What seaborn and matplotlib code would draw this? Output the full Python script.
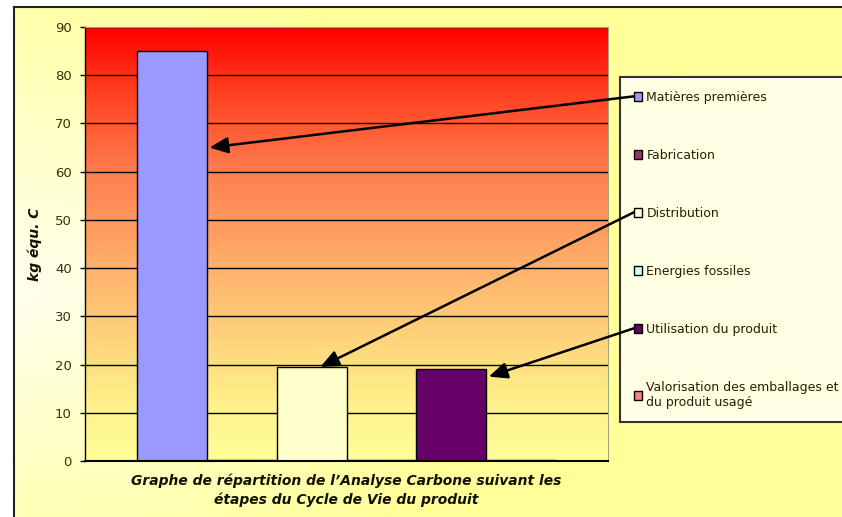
import numpy as np
import pandas as pd
import seaborn as sns
import matplotlib.pyplot as plt
from matplotlib.colors import LinearSegmentedColormap, to_rgb

# Carbon footprint per life-cycle stage (kg C equivalent)
etapes = [
    "Matières premières",
    "Fabrication",
    "Distribution",
    "Energies fossiles",
    "Utilisation du produit",
    "Valorisation des emballages et\ndu produit usagé",
]
valeurs = [85, 0.3, 19.5, 0.2, 19, 0.3]
couleurs = ["#9999FF", "#993366", "#FFFFCC", "#CCFFFF", "#660066", "#FF8080"]
graduations = list(range(0, 91, 10))
titre_axe_y = "kg équ. C"
titre_axe_x = ("Graphe de répartition de l’Analyse Carbone suivant les\n"
               "étapes du Cycle de Vie du produit")
# stages pointed at by an arrow from the legend, with the arrow tip (x offset, value)
fleches = {0: (-0.262, 65), 2: (-0.05, valeurs[2]), 4: (0.272, 17.5)}

sns.set_theme(style="white")
plt.rcParams["font.family"] = ["DejaVu Sans"]

W, H = 842, 517
fig = plt.figure(figsize=(W / 100, H / 100), dpi=100)
fig.patch.set_facecolor("white")

# chart area: pale yellow radial wash with a dark frame
bg = fig.add_axes([14 / W, 0, 1 - 14 / W, (H - 7) / H], zorder=0)
gx, gy = np.meshgrid(np.linspace(0, 1, 300), np.linspace(0, 1, 200))
w = np.clip(np.hypot(gx * 1.2, (gy - 0.45) * 1.1) / 0.75, 0, 1)[..., None]
pale, yel = np.array(to_rgb("#FFFFEE")), np.array(to_rgb("#FFFF99"))
bg.imshow(pale * (1 - w) + yel * w, extent=[0, 1, 0, 1], aspect="auto", origin="lower")
bg.set_xlim(0, 1)
bg.set_ylim(0, 1)
bg.set_xticks([])
bg.set_yticks([])
for s in ("top", "left"):
    bg.spines[s].set_color("#222222")
    bg.spines[s].set_linewidth(1.5)
for s in ("right", "bottom"):
    bg.spines[s].set_visible(False)

# plot area
ax = fig.add_axes([85 / W, 1 - 461 / H, 523 / W, 434 / H], zorder=1)
ax.set_facecolor("none")
cmap = LinearSegmentedColormap.from_list(
    "chaud",
    [(0.0, "#FFFF99"), (0.15, "#FFEE88"), (0.4, "#FFBB70"),
     (0.66, "#FF8050"), (0.85, "#FF4020"), (1.0, "#FF0000")],
)
ax.imshow(np.linspace(0, 1, 256)[:, None], cmap=cmap, origin="lower",
          extent=[0, 1, 0, 1], aspect="auto", transform=ax.transAxes, zorder=0)

df = pd.DataFrame({"serie": [""] * len(etapes), "etape": etapes, "kg": valeurs})
sns.barplot(data=df, x="serie", y="kg", hue="etape", hue_order=etapes,
            palette=couleurs, width=0.8, edgecolor="black", linewidth=1,
            saturation=1, ax=ax)

ax.set_xlim(-0.5, 0.5)
ax.set_ylim(0, 90)
ax.set_yticks(graduations)
ax.yaxis.grid(True, color="black", linewidth=1)
ax.set_axisbelow(True)
ax.set_xticks([])
ax.tick_params(axis="y", left=True, length=3.6, width=1, color="black",
               labelsize=9.5, labelcolor="#333300", pad=6)
ax.spines["left"].set_color("black")
ax.spines["left"].set_linewidth(1)
ax.spines["bottom"].set_color("black")
ax.spines["bottom"].set_linewidth(1.5)
for s in ("top", "right"):
    ax.spines[s].set_color("#A0A080")
    ax.spines[s].set_linewidth(0.8)

ax.set_ylabel(titre_axe_y, fontsize=10, fontweight="bold", fontstyle="italic", color="#111100")
ax.yaxis.set_label_coords(-(85 - 42) / 523, 0.5)
ax.set_xlabel(titre_axe_x, fontsize=10, fontweight="bold", fontstyle="italic",
              color="#111100", labelpad=9, linespacing=1.4)

handles, labels = ax.get_legend_handles_labels()
leg = ax.legend(handles, labels, loc="upper left",
                bbox_to_anchor=(620 / W, 1 - 77 / H), bbox_transform=fig.transFigure,
                fontsize=9, frameon=True, fancybox=False, edgecolor="#333333",
                facecolor="#FFFFE4", framealpha=1, labelspacing=3.6,
                handlelength=0.65, handleheight=0.65, handletextpad=0.35,
                borderpad=1.1, borderaxespad=0)
leg.get_frame().set_linewidth(1.5)
for t in leg.get_texts():
    t.set_color("#222200")

# arrows from legend markers to the bars
fig.canvas.draw()
inv = fig.transFigure.inverted()
for i, (xt, yt) in fleches.items():
    bb = leg.legend_handles[i].get_window_extent()
    x0, y0 = inv.transform((bb.x0, (bb.y0 + bb.y1) / 2))
    ax.annotate("", xy=(xt, yt), xycoords="data",
                xytext=(x0, y0), textcoords="figure fraction",
                arrowprops=dict(arrowstyle="-|>,head_length=0.8,head_width=0.35",
                                color="black", lw=1.8, mutation_scale=14,
                                shrinkA=0, shrinkB=0),
                annotation_clip=False, zorder=6)

fig.savefig("out.png", dpi=100)
